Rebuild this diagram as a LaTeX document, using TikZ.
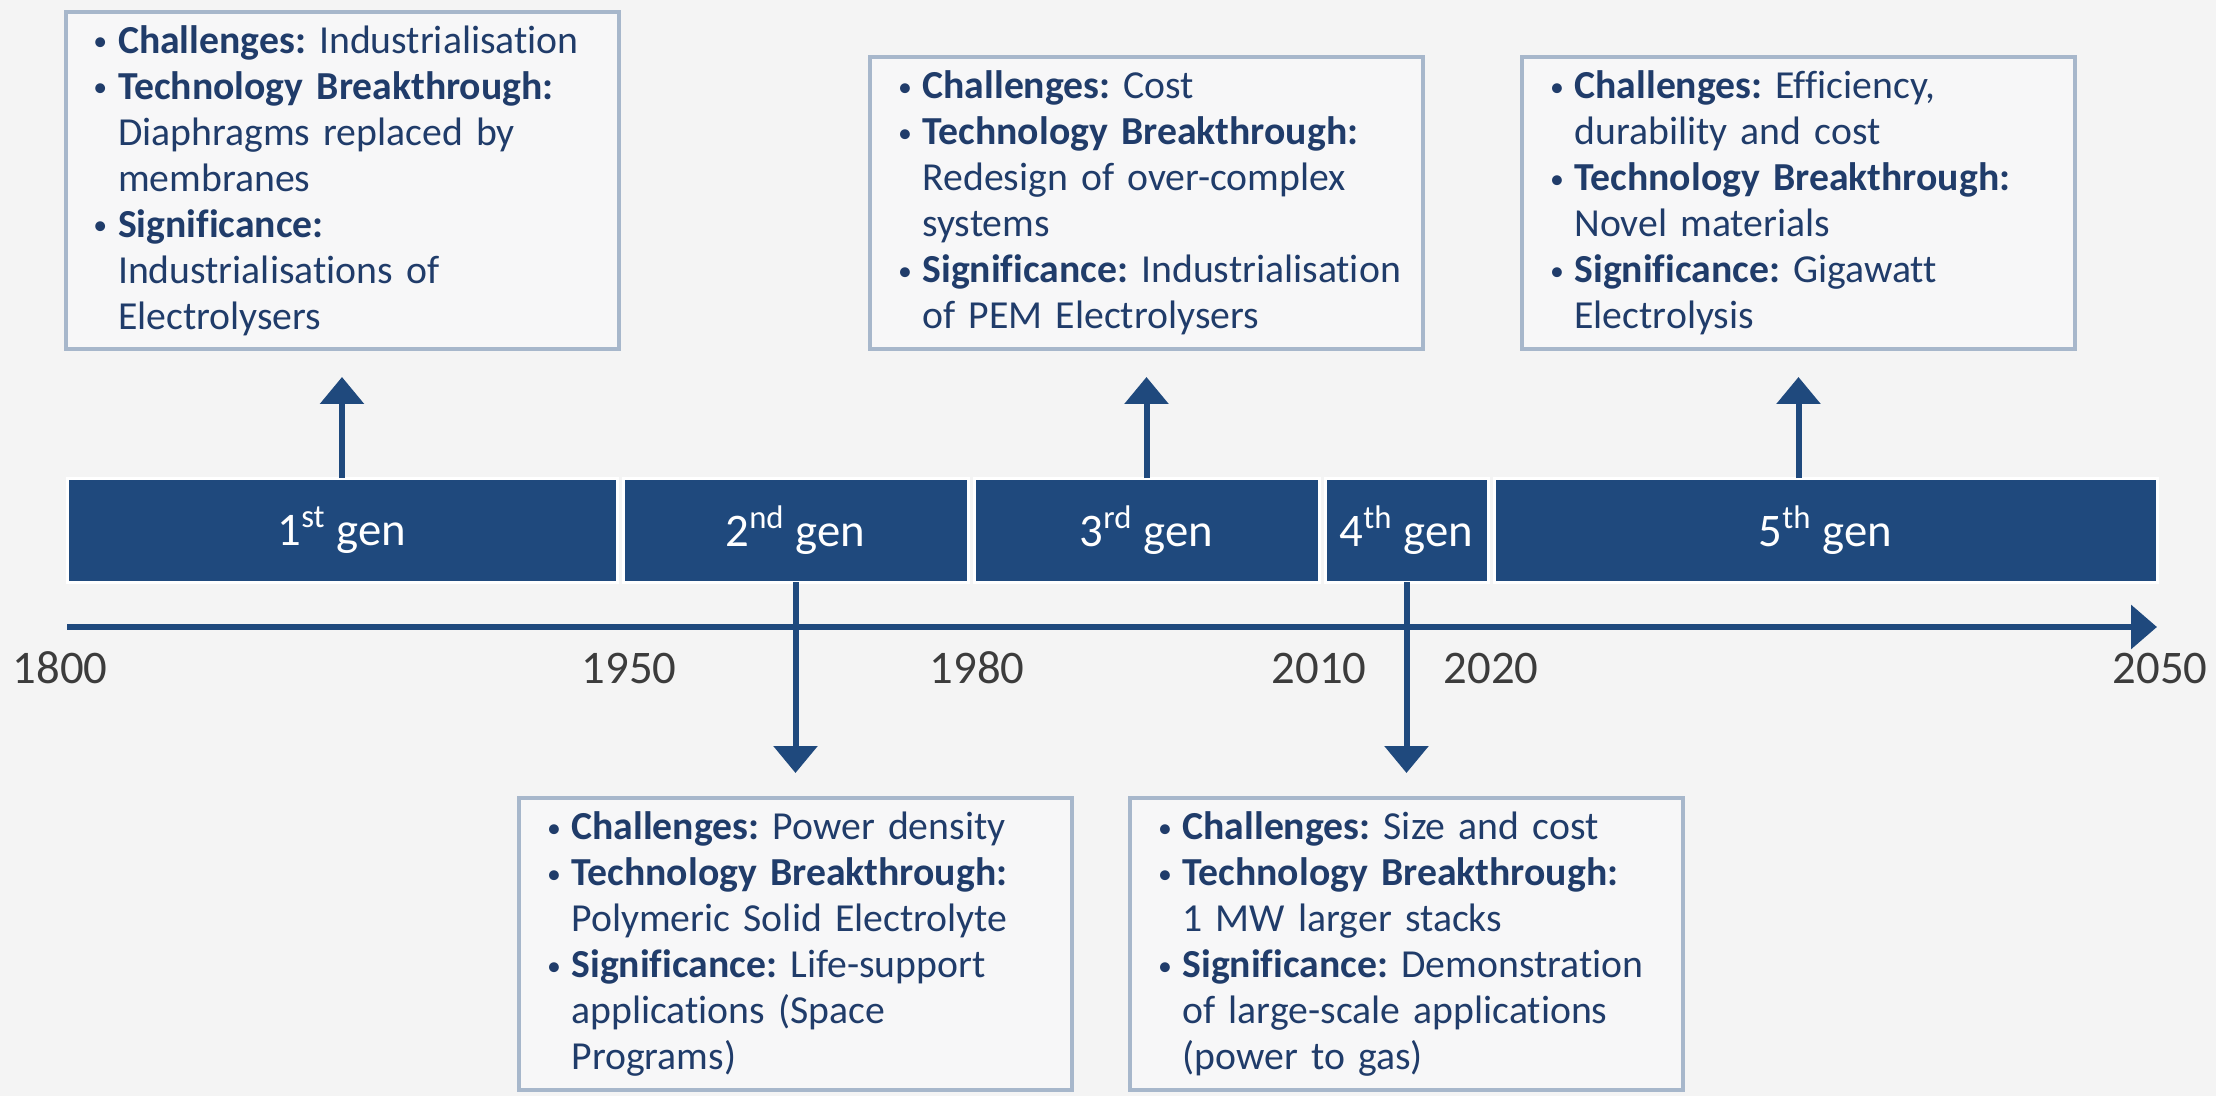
\documentclass[tikz,border=0pt]{standalone}
\usepackage{fontspec}
\setmainfont{Carlito}[Ligatures=NoCommon]
\usepackage{xcolor}
\usetikzlibrary{positioning, arrows.meta}
\definecolor{BarBlue}{RGB}{31,73,125}
\definecolor{BoxEdge}{RGB}{167,183,203}
\definecolor{TextNavy}{RGB}{32,60,106}
\definecolor{YearGray}{RGB}{60,60,60}
\definecolor{PageGray}{RGB}{244,244,244}
\definecolor{BoxFill}{RGB}{247,247,248}
\newcommand{\bpt}{\makebox[0.245cm][l]{\raisebox{0.06em}{\scalebox{0.7}{•}}}}
\newcommand{\bind}{\hspace*{0.245cm}}

\begin{document}
\frenchspacing
\begin{tikzpicture}[
  gen/.style={fill=BarBlue, draw=white, line width=0.03cm, outer sep=0pt, inner sep=0pt,
    minimum height=1.04cm, text=white, font=\fontsize{13.3pt}{16pt}\selectfont},
  infobox/.style={draw=BoxEdge, line width=0.04cm, fill=BoxFill, align=left, text width=4.97cm,
    inner xsep=0.28cm, inner ysep=0.08cm, minimum height=2.92cm, text=TextNavy,
    font=\fontsize{11.3pt}{13.1pt}\selectfont},
  year/.style={text=YearGray, font=\fontsize{13.3pt}{16pt}\selectfont},
  arrow/.style={-{Triangle[length=0.27cm, width=0.43cm]}, line width=0.06cm, BarBlue},
  axis/.style={-{Triangle[length=0.26cm, width=0.43cm]}, line width=0.065cm, BarBlue}]

\useasboundingbox (0,0) rectangle (22.16,10.96);
\fill[PageGray] (0,0) rectangle (22.16,10.96);

% generation bar
\node[gen, minimum width=5.50cm, anchor=west] (g1) at (0.67,5.66) {1\textsuperscript{st} gen};
\node[gen, minimum width=3.45cm, right=0.06cm of g1] (g2) {2\textsuperscript{nd} gen};
\node[gen, minimum width=3.45cm, right=0.06cm of g2] (g3) {3\textsuperscript{rd} gen};
\node[gen, minimum width=1.63cm, right=0.06cm of g3] (g4) {4\textsuperscript{th} gen};
\node[gen, minimum width=6.63cm, right=0.06cm of g4] (g5) {5\textsuperscript{th} gen};

% time axis
\coordinate (t0) at (0.67,4.69);
\coordinate (t1) at (21.57,4.69);
\draw[axis] (t0) -- (t1);

\node[year] (y1800) at (0.60,4.28) {1800};
\node[year] (y1950) at (6.29,4.28) {1950};
\node[year] (y1980) at (9.77,4.28) {1980};
\node[year] (y2010) at (13.19,4.28) {2010};
\node[year] (y2020) at (14.91,4.28) {2020};
\node[year] (y2050) at (21.60,4.28) {2050};

% boxes above the bar
\node[infobox, minimum height=3.37cm, above=1.27cm of g1] (b1) {\bpt\textbf{Challenges:} Industrialisation\\
\bpt\textbf{Technology Breakthrough:}\\
\bind Diaphragms replaced by\\
\bind membranes\\
\bpt\textbf{Significance:}\\
\bind Industrialisations of\\
\bind Electrolysers};
\node[infobox, above=1.27cm of g3] (b3) {\bpt\textbf{Challenges:} Cost\\
\bpt\textbf{Technology Breakthrough:}\\
\bind Redesign of over-complex\\
\bind systems\\
\mbox{\bpt\textbf{Significance:} Industrialisation}\\
\bind of PEM Electrolysers};
\node[infobox, above=1.27cm of g5, xshift=-0.27cm] (b5) {\bpt\textbf{Challenges:} Efficiency,\\
\bind durability and cost\\
\bpt\textbf{Technology Breakthrough:}\\
\bind Novel materials\\
\bpt\textbf{Significance:} Gigawatt\\
\bind Electrolysis};

% boxes below the axis
\node[infobox, below=2.14cm of g2] (b2) {\bpt\textbf{Challenges:} Power density\\
\bpt\textbf{Technology Breakthrough:}\\
\bind Polymeric Solid Electrolyte\\
\bpt\textbf{Significance:} Life-support\\
\bind applications (Space\\
\bind Programs)};
\node[infobox, below=2.14cm of g4] (b4) {\bpt\textbf{Challenges:} Size and cost\\
\bpt\textbf{Technology Breakthrough:}\\
\bind 1 MW larger stacks\\
\bpt\textbf{Significance:} Demonstration\\
\bind of large-scale applications\\
\bind (power to gas)};

% arrows from the bar to the boxes
\draw[arrow, shorten >=0.26cm] (g1.north) -- (b1.south);
\draw[arrow, shorten >=0.26cm] (g3.north) -- (b3.south);
\draw[arrow, shorten >=0.26cm] (b5.south |- g5.north) -- (b5.south);
\draw[arrow, shorten >=0.23cm] (g2.south) -- (b2.north);
\draw[arrow, shorten >=0.23cm] (g4.south) -- (b4.north);
\end{tikzpicture}
\end{document}
